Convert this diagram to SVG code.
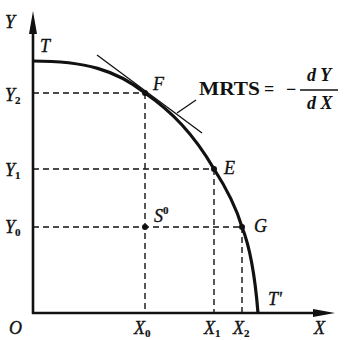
<svg xmlns="http://www.w3.org/2000/svg" width="344" height="340" viewBox="0 0 344 340">
<style>
.lbl{font-family:"Liberation Serif","Times New Roman",serif;font-style:italic;font-size:18px;fill:#111;stroke:#111;stroke-width:0.35}
.sub{font-style:normal;font-weight:bold;font-size:11px;stroke-width:0.2}
.eq{font-family:"Liberation Serif","Times New Roman",serif;font-weight:bold;font-size:18px;fill:#111}
.dash{stroke:#111;stroke-width:1.4;stroke-dasharray:6 4;fill:none}
.axis{stroke:#111;stroke-width:2.6;fill:none}
.dot{fill:#111}
</style>
<rect width="344" height="340" fill="#fff"/>
<g id="connectors">
  <line class="dash" x1="33" y1="93" x2="145" y2="93"/>
  <line class="dash" x1="145" y1="93" x2="145" y2="313"/>
  <line class="dash" x1="33" y1="169" x2="214" y2="169"/>
  <line class="dash" x1="214" y1="169" x2="214" y2="313"/>
  <line class="dash" x1="33" y1="227" x2="242" y2="227"/>
  <line class="dash" x1="242" y1="227" x2="242" y2="313"/>
  <line x1="97" y1="55" x2="202" y2="133" stroke="#111" stroke-width="1.3"/>
  <line x1="196" y1="100" x2="177" y2="113" stroke="#111" stroke-width="1.3"/>
</g>
<g id="axes">
  <line class="axis" x1="33" y1="314" x2="33" y2="30"/>
  <polygon points="33,11 29,34 37,34" fill="#111"/>
  <line class="axis" x1="32" y1="313" x2="318" y2="313"/>
  <polygon points="335,313 313,309 313,317" fill="#111"/>
  <text class="lbl" x="5" y="28">Y</text>
  <text class="lbl" x="9" y="334">O</text>
  <text class="lbl" x="314" y="334">X</text>
</g>
<g id="curve">
  <path d="M33,61 C85,61 116,70 145,93 C171,111 193,133 214,169 C225,186 236,207 242,227 C252,252 256,288 258,313" fill="none" stroke="#111" stroke-width="3.2"/>
  <text class="lbl" x="40" y="52">T</text>
  <text class="lbl" x="268" y="305">T'</text>
</g>
<g id="F"><circle class="dot" cx="145" cy="93" r="3"/><text class="lbl" x="153" y="90">F</text></g>
<g id="E"><circle class="dot" cx="214" cy="169" r="3"/><text class="lbl" x="224" y="174">E</text></g>
<g id="G"><circle class="dot" cx="242" cy="227" r="3"/><text class="lbl" x="254" y="232">G</text></g>
<g id="S0"><circle class="dot" cx="145" cy="227" r="3"/><text class="lbl" x="154" y="222">S<tspan class="sub" dy="-8">0</tspan></text></g>
<g id="Y2"><text class="lbl" x="5" y="101">Y<tspan class="sub" dy="3">2</tspan></text></g>
<g id="Y1"><text class="lbl" x="5" y="176">Y<tspan class="sub" dy="3">1</tspan></text></g>
<g id="Y0"><text class="lbl" x="5" y="233">Y<tspan class="sub" dy="3">0</tspan></text></g>
<g id="X0"><text class="lbl" x="134" y="334">X<tspan class="sub" dy="3">0</tspan></text></g>
<g id="X1"><text class="lbl" x="204" y="334">X<tspan class="sub" dy="3">1</tspan></text></g>
<g id="X2"><text class="lbl" x="233" y="334">X<tspan class="sub" dy="3">2</tspan></text></g>
<g id="MRTS">
  <text class="eq" x="199" y="95" font-size="19" textLength="61" lengthAdjust="spacingAndGlyphs">MRTS</text>
  <text class="eq" x="264" y="95">=</text>
  <text class="eq" x="286" y="95">−</text>
  <line x1="300" y1="90" x2="338" y2="90" stroke="#111" stroke-width="1.4"/>
  <text class="eq" x="307" y="81" font-style="italic">d Y</text>
  <text class="eq" x="307" y="109" font-style="italic">d X</text>
</g>
</svg>
